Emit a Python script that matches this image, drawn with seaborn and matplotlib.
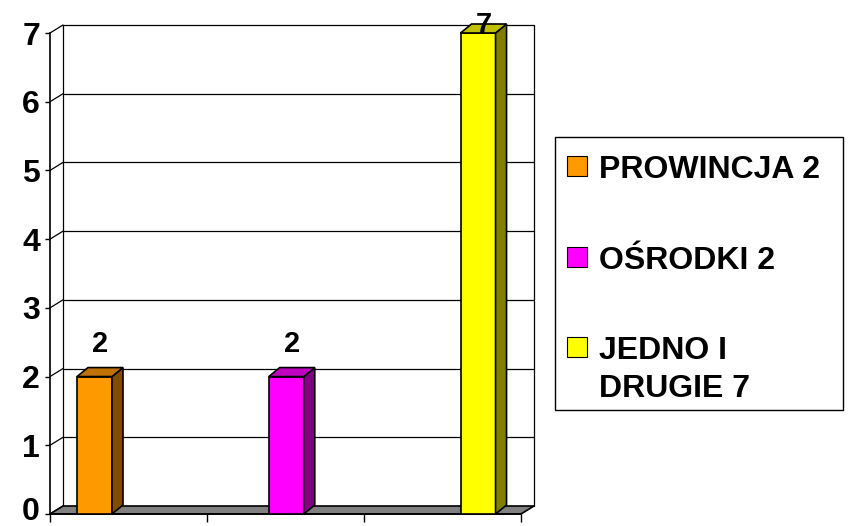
import matplotlib
matplotlib.use("Agg")
import matplotlib.pyplot as plt
import seaborn as sns
import pandas as pd
import numpy as np
from matplotlib.patches import Polygon, Rectangle

# ---- data ----
categories = ["PROWINCJA 2", "OŚRODKI 2", "JEDNO I\nDRUGIE 7"]
values = [2, 2, 7]
value_labels = ["2", "2", "7"]
face_colors = ["#FF9900", "#FF00FF", "#FFFF00"]
top_colors = ["#C07300", "#C000C0", "#C0C000"]
side_colors = ["#7F4C00", "#800080", "#808000"]
y_ticks = [0, 1, 2, 3, 4, 5, 6, 7]
y_tick_labels = ["0", "1", "2", "3", "4", "5", "6", "7"]

sns.set_style("white")
plt.rcParams["font.family"] = ["Liberation Sans", "DejaVu Sans"]
plt.rcParams["font.weight"] = "bold"

W, H = 854, 526
fig = plt.figure(figsize=(W / 100, H / 100), dpi=100)
fig.patch.set_facecolor("white")
ax = fig.add_axes([50 / W, 12 / H, 471 / W, 481 / H])
ax.patch.set_alpha(0)

df = pd.DataFrame({"cat": categories, "val": values})
sns.barplot(data=df, x="cat", y="val", hue="cat", palette=face_colors,
            saturation=1, width=0.1825, errorbar=None, edgecolor="black",
            linewidth=1.2, legend=False, ax=ax, zorder=4)
bars = sorted(list(ax.patches), key=lambda p: p.get_x())

x0, x1 = -0.232, 2.224
ax.set_xlim(x0, x1)
ax.set_ylim(0, 7)
sx = 471 / (x1 - x0)   # px per x unit
sy = 481 / 7           # px per y unit

# wall depth and bar depth (pixels -> data)
wdx, wdy = 13 / sx, 8 / sy
bdx, bdy = 11 / sx, 9 / sy

lc = "black"
# back wall gridlines
for y in y_ticks[1:]:
    ax.plot([x0 + wdx, x1 + wdx], [y + wdy, y + wdy], color=lc, lw=0.9,
            clip_on=False, zorder=1)
# left wall diagonals
for y in y_ticks:
    ax.plot([x0, x0 + wdx], [y, y + wdy], color=lc, lw=0.9, clip_on=False, zorder=1)
# back wall vertical edges
for xv in (x0 + wdx, x1 + wdx):
    ax.plot([xv, xv], [wdy, 7 + wdy], color=lc, lw=0.9, clip_on=False, zorder=1)
# floor
floor = Polygon([(x0, 0), (x1, 0), (x1 + wdx, wdy), (x0 + wdx, wdy)],
                closed=True, fc="#808080", ec="black", lw=1.2, clip_on=False, zorder=2)
ax.add_patch(floor)

# 3D bar sides/tops and labels
for i, b in enumerate(bars):
    x, w, h = b.get_x(), b.get_width(), b.get_height()
    b.set_clip_on(False)
    top = Polygon([(x, h), (x + w, h), (x + w + bdx, h + bdy), (x + bdx, h + bdy)],
                  closed=True, fc=top_colors[i], ec="black", lw=1.2, clip_on=False, zorder=4)
    side = Polygon([(x + w, 0), (x + w + bdx, bdy), (x + w + bdx, h + bdy), (x + w, h)],
                   closed=True, fc=side_colors[i], ec="black", lw=1.2, clip_on=False, zorder=4)
    ax.add_patch(side)
    ax.add_patch(top)
    ly = min(h + bdy + 16 / sy, 7.0)
    ax.text(x + w / 2 + bdx / 2, ly, value_labels[i], ha="center", va="baseline",
            fontsize=21, fontweight="bold", color="black", zorder=6, clip_on=False)

# axes styling
ax.set_xlabel("")
ax.set_ylabel("")
ax.set_yticks(y_ticks)
# the bottom "0" is drawn separately, nudged up so it stays inside the image
ax.set_yticklabels([""] + y_tick_labels[1:], fontsize=23, fontweight="bold")
ax.annotate(y_tick_labels[0], xy=(x0, y_ticks[0]), xytext=(-10, 6),
            textcoords="offset pixels", ha="right", va="center_baseline",
            fontsize=23, fontweight="bold", color="black", annotation_clip=False)
ax.set_xticks(np.linspace(x0, x1, 4))
ax.set_xticklabels([""] * 4)
ax.tick_params(axis="y", direction="out", length=3.6, width=1, pad=3.6, colors="black", left=True)
ax.tick_params(axis="x", direction="out", length=6, width=1, colors="black", bottom=True)
for s in ("top", "right"):
    ax.spines[s].set_visible(False)
for s in ("left", "bottom"):
    ax.spines[s].set_color("black")
    ax.spines[s].set_linewidth(1.2)
    ax.spines[s].set_zorder(3)
ax.grid(False)

# legend (manual, in pixel positions)
def fx(px):
    return px / W

def fy(py):
    return 1 - py / H

fig.add_artist(Rectangle((fx(555), fy(410)), (843 - 555) / W, (410 - 137) / H,
                         transform=fig.transFigure, fill=False, ec="black", lw=1))
entry_tops = [156, 247, 337]
for i, lab in enumerate(categories):
    t = entry_tops[i]
    fig.add_artist(Rectangle((fx(567), fy(t + 20)), 20 / W, 20 / H,
                             transform=fig.transFigure, fc=face_colors[i], ec="black", lw=0.8))
    for j, line in enumerate(lab.split("\n")):
        fig.text(fx(599), fy(t + 22 + 38 * j), line, fontsize=23, fontweight="bold",
                 ha="left", va="baseline", color="black")

fig.savefig("out.png", dpi=100, facecolor="white")
